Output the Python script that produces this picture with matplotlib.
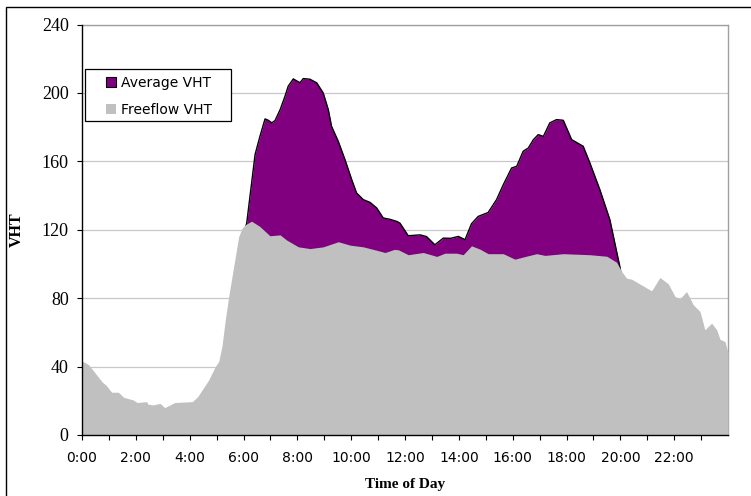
import numpy as np
import matplotlib
matplotlib.use('Agg')
import matplotlib.pyplot as plt
from matplotlib.patches import Patch, Rectangle

# Freeflow VHT (hour of day, value)
free_hours = [0.0, 0.1, 0.25, 0.5, 0.75, 0.9, 1.1, 1.35, 1.55, 1.9, 2.05, 2.4, 2.45,
              2.65, 2.9, 3.07, 3.45, 4.1, 4.3, 4.7, 4.95, 5.08, 5.2, 5.32, 5.45, 5.63,
              5.82, 5.95, 6.07, 6.3, 6.6, 6.98, 7.36, 7.6, 8.04, 8.47, 8.96, 9.52, 9.96,
              10.45, 10.95, 11.26, 11.6, 11.75, 12.12, 12.68, 13.18, 13.48, 13.92, 14.16,
              14.47, 14.78, 15.09, 15.65, 16.08, 16.5, 16.89, 17.2, 17.88, 18.87, 19.5,
              19.86, 20.05, 20.23, 20.42, 20.67, 21.16, 21.47, 21.78, 22.03, 22.21, 22.46,
              22.71, 22.96, 23.14, 23.39, 23.58, 23.7, 23.89, 24.0]
free_vht = [43, 42.5, 41, 36, 31, 29, 25, 25, 22, 20.5, 19, 19.5, 18,
            17.6, 18.5, 16, 19, 19.5, 22.5, 32, 40, 43, 52, 67, 81, 98,
            116, 121, 123, 125, 122, 116.5, 117, 114, 110, 109, 110, 113, 111,
            110, 108, 106.7, 108.5, 108.3, 105.4, 106.7, 104.4, 106.3, 106.3, 105.4,
            110.6, 108.7, 106, 106, 102.8, 104.5, 106, 105, 106, 105.4, 104.5,
            101, 95.6, 91.7, 91.1, 88.8, 84.3, 92.1, 88.4, 81, 79.6, 83.9,
            76.1, 72.2, 61.5, 65.4, 61.5, 56, 54.6, 48]

# Average VHT (only where it rises above freeflow)
avg_hours = [5.8, 6.12, 6.43, 6.61, 6.8, 6.92, 7.05, 7.17, 7.36, 7.54, 7.66, 7.85, 7.98,
             8.1, 8.22, 8.47, 8.72, 8.96, 9.15, 9.27, 9.52, 9.77, 10.02, 10.2, 10.45,
             10.7, 10.95, 11.19, 11.44, 11.69, 11.81, 12.12, 12.56, 12.8, 13.11, 13.42,
             13.7, 13.98, 14.23, 14.47, 14.72, 15.09, 15.4, 15.65, 15.96, 16.15, 16.39,
             16.58, 16.77, 16.95, 17.14, 17.38, 17.63, 17.88, 18.19, 18.62, 18.87, 19.24,
             19.61, 19.98, 20.1]
avg_vht = [105, 124, 164, 174.6, 184.8, 184, 182.5, 183.8, 190.2, 198, 203.9, 208.2, 207,
           206, 208.4, 208, 205.9, 200, 190.2, 180.5, 171.7, 161, 149.3, 141.5, 137.6,
           136, 132.7, 126.9, 126.1, 124.9, 123.9, 116.5, 117, 116, 111.2, 115.1,
           115, 116.1, 114.2, 123.5, 127.8, 130.1, 137.6, 146.3, 156.1, 157.1, 165.9,
           167.8, 172.7, 175.6, 174.6, 182.5, 184.4, 184, 172.7, 168.8, 159, 143.4,
           125.9, 98.5, 88]

tick_hours = list(range(0, 24, 2))
tick_labels = ['%d:00' % h for h in tick_hours]
y_ticks = [0, 40, 80, 120, 160, 200, 240]

purple = '#800080'
grey = '#c0c0c0'

fig = plt.figure(figsize=(7.51, 4.96), dpi=100)
ax = fig.add_axes([0.1092, 0.1230, 0.8602, 0.8276])

# outer chart border
fig.patches.append(Rectangle((0.008, -0.05), 1.2, 1.036, transform=fig.transFigure,
                             fill=False, edgecolor='black', linewidth=1.0))

ax.fill_between(avg_hours, 0, avg_vht, color=purple, linewidth=0, zorder=2)
ax.plot(avg_hours, avg_vht, color='black', linewidth=1.0, zorder=2.5)
ax.fill_between(free_hours, 0, free_vht, color=grey, linewidth=0, zorder=3)

ax.set_xlim(0, 24)
ax.set_ylim(0, 240)
ax.set_xticks(tick_hours)
ax.set_xticklabels(tick_labels, family='DejaVu Sans', fontsize=10)
ax.set_xticks(range(1, 24, 2), minor=True)
ax.set_yticks(y_ticks)
ax.set_yticklabels([str(v) for v in y_ticks], family='Liberation Serif', fontsize=13)
ax.tick_params(axis='both', which='both', direction='out', length=3.6, width=0.8,
               color='black')
ax.tick_params(axis='x', which='both', pad=8)
ax.tick_params(axis='y', pad=6)
ax.yaxis.grid(True, color='#c8c8c8', linewidth=0.9)
ax.set_axisbelow(True)

for s in ['left', 'bottom']:
    ax.spines[s].set_color('black')
    ax.spines[s].set_linewidth(1.0)
for s in ['top', 'right']:
    ax.spines[s].set_color('#a0a0a0')
    ax.spines[s].set_linewidth(1.0)
ax.spines['left'].set_zorder(5)
ax.spines['bottom'].set_zorder(5)

ax.set_xlabel('Time of Day', family='Liberation Serif', fontweight='bold', fontsize=11)
ax.set_ylabel('VHT', family='Liberation Serif', fontweight='bold', fontsize=11.5)
ax.xaxis.set_label_coords(0.5, -0.105)
ax.yaxis.set_label_coords(-0.088, 0.5)

# legend
handles = [Patch(facecolor=purple, edgecolor='black', linewidth=0.8, label='Average VHT'),
           Patch(facecolor=grey, edgecolor=grey, linewidth=0, label='Freeflow VHT')]
leg = ax.legend(handles=handles, loc='upper left', bbox_to_anchor=(0.0372, 0.874),
                frameon=False, borderpad=0, borderaxespad=0, handlelength=0.75,
                handleheight=0.75, handletextpad=0.35, labelspacing=0.9,
                prop={'family': 'DejaVu Sans', 'size': 10})
leg.set_zorder(10)
ax.add_patch(Rectangle((0.0046, 0.765), 0.226, 0.1267, transform=ax.transAxes,
                       facecolor='white', edgecolor='black', linewidth=0.9, zorder=9))

fig.savefig('out.png', dpi=100)
